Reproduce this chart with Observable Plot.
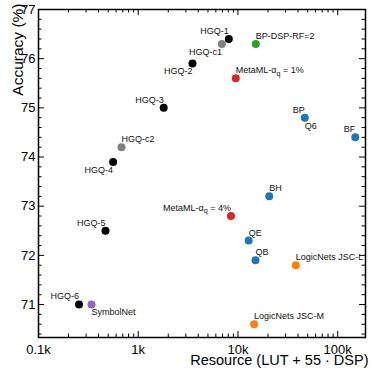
<!DOCTYPE html>
<html>
<head>
<meta charset="utf-8">
<script src="https://cdn.jsdelivr.net/npm/d3@7"></script>
<script src="https://cdn.jsdelivr.net/npm/@observablehq/plot@0.6"></script>
<style>
  html, body { margin: 0; padding: 0; background: #fff; }
  #chart svg, #chart svg text { font-family: "Liberation Sans", Arial, Helvetica, sans-serif; }
</style>
</head>
<body>
<div id="chart"></div>
<script>
// ---- data ----
const names = ["HGQ-1", "HGQ-c1", "HGQ-2", "HGQ-3", "HGQ-c2", "HGQ-4", "HGQ-5", "HGQ-6",
  "SymbolNet", "BP-DSP-RF=2", "MetaML-αq = 1%", "MetaML-αq = 4%",
  "BP", "Q6", "BF", "BH", "QE", "QB", "LogicNets JSC-L", "LogicNets JSC-M"];
const resources = [8100, 6900, 3500, 1800, 680, 560, 470, 255,
  340, 15100, 9500, 8500,
  46800, 46800, 150000, 20600, 12800, 15000, 38000, 14500];
const accuracies = [76.4, 76.3, 75.9, 75.0, 74.2, 73.9, 72.5, 71.0,
  71.0, 76.3, 75.6, 72.8,
  74.8, 74.8, 74.4, 73.2, 72.3, 71.9, 71.8, 70.6];
const groups = ["HGQ", "HGQ-c", "HGQ", "HGQ", "HGQ-c", "HGQ", "HGQ", "HGQ",
  "SymbolNet", "BP-DSP", "MetaML", "MetaML",
  "hls4ml", "hls4ml", "hls4ml", "hls4ml", "hls4ml", "hls4ml", "LogicNets", "LogicNets"];

const groupNames = ["HGQ", "HGQ-c", "SymbolNet", "BP-DSP", "MetaML", "hls4ml", "LogicNets"];
const groupColors = ["#000000", "#808080", "#9467bd", "#2ca02c", "#d62728", "#1f77b4", "#ff7f0e"];

const xMajorTicks = [100, 1000, 10000, 100000];
const xTickLabels = ["0.1k", "1k", "10k", "100k"];
const xMinorTicks = [200, 300, 400, 500, 600, 700, 800, 900,
  2000, 3000, 4000, 5000, 6000, 7000, 8000, 9000,
  20000, 30000, 40000, 50000, 60000, 70000, 80000, 90000];
const yMajorTicks = [71, 72, 73, 74, 75, 76, 77];
const yTickLabels = ["71", "72", "73", "74", "75", "76", "77"];
const yMinorTicks = [70.4, 70.6, 70.8, 71.2, 71.4, 71.6, 71.8, 72.2, 72.4, 72.6, 72.8,
  73.2, 73.4, 73.6, 73.8, 74.2, 74.4, 74.6, 74.8, 75.2, 75.4, 75.6, 75.8,
  76.2, 76.4, 76.6, 76.8];

const xLabel = "Resource (LUT + 55 · DSP)";
const yLabel = "Accuracy (%)";

// ---- label placement (layout, not data) ----
const placement = {
  "HGQ-1": "above-end", "HGQ-c1": "below-end", "HGQ-2": "below-end", "HGQ-3": "above-end",
  "HGQ-c2": "above-start", "HGQ-4": "below-end", "HGQ-5": "above-end", "HGQ-6": "above-end",
  "SymbolNet": "below-start", "BP-DSP-RF=2": "above-start", "MetaML-αq = 1%": "above-start",
  "MetaML-αq = 4%": "above-end", "BP": "above-end", "Q6": "below-start", "BF": "above-end",
  "BH": "above-start", "QE": "above-start", "QB": "above-start",
  "LogicNets JSC-L": "above-start", "LogicNets JSC-M": "above-start"
};

const rows = names.map((n, i) => ({name: n, res: resources[i], acc: accuracies[i], group: groups[i]}));
const dotRows = rows.filter(d => d.name !== "Q6"); // Q6 shares the BP point

const W = 374, H = 376;
const mL = 38, mR = 9, mT = 9, mB = 39;
const plotW = W - mL - mR, plotH = H - mT - mB;
const majorLen = 6, minorLen = 3.5;
const tickColor = "black";
const FONT = "Liberation Sans, Arial, Helvetica, sans-serif";

const labelMark = (pos, anchor, dy) => Plot.text(rows.filter(d => placement[d.name] === pos), {
  x: "res", y: "acc", text: "name", textAnchor: anchor, dy, fontSize: 9, fill: "#111", fontFamily: FONT
});
const dotMarks = groupNames.map((g, i) => Plot.dot(dotRows.filter(d => d.group === g), {
  x: "res", y: "acc", r: 4, fill: groupColors[i], stroke: "none"
}));

const chart = Plot.plot({
  width: W, height: H,
  marginLeft: mL, marginRight: mR, marginTop: mT, marginBottom: mB,
  x: {type: "log", domain: [100, 190000], axis: null},
  y: {domain: [70.33, 77], axis: null},
  marks: [
    // inward ticks: bottom / top
    Plot.ruleX(xMajorTicks, {insetTop: plotH - majorLen, stroke: tickColor, strokeWidth: 1}),
    Plot.ruleX(xMinorTicks, {insetTop: plotH - minorLen, stroke: tickColor, strokeWidth: 1}),
    Plot.ruleX(xMajorTicks, {insetBottom: plotH - majorLen, stroke: tickColor, strokeWidth: 1}),
    Plot.ruleX(xMinorTicks, {insetBottom: plotH - minorLen, stroke: tickColor, strokeWidth: 1}),
    // inward ticks: left / right
    Plot.ruleY(yMajorTicks, {insetRight: plotW - majorLen, stroke: tickColor, strokeWidth: 1}),
    Plot.ruleY(yMinorTicks, {insetRight: plotW - minorLen, stroke: tickColor, strokeWidth: 1}),
    Plot.ruleY(yMajorTicks, {insetLeft: plotW - majorLen, stroke: tickColor, strokeWidth: 1}),
    Plot.ruleY(yMinorTicks, {insetLeft: plotW - minorLen, stroke: tickColor, strokeWidth: 1}),
    Plot.frame({stroke: "black", strokeWidth: 1.5}),
    // tick labels
    Plot.text(xMajorTicks, {x: d => d, frameAnchor: "bottom", lineAnchor: "top", dy: 7,
      text: (d, i) => xTickLabels[i], fontSize: 13, fill: "black", fontFamily: FONT}),
    Plot.text(yMajorTicks, {y: d => d, frameAnchor: "left", textAnchor: "end", dx: -3,
      text: (d, i) => yTickLabels[i], fontSize: 13, fill: "black", fontFamily: FONT}),
    // points
    ...dotMarks,
    // labels
    labelMark("above-start", "start", -8),
    labelMark("above-end", "end", -8),
    labelMark("below-start", "start", 8),
    labelMark("below-end", "end", 8),
    // axis titles
    Plot.text([xLabel], {frameAnchor: "bottom-right", text: d => d, textAnchor: "end", dx: 3, dy: 27, fontSize: 14.5, fill: "black", fontFamily: FONT}),
    Plot.text([yLabel], {frameAnchor: "top-left", text: d => d, textAnchor: "end", rotate: -90, dx: -27, dy: -6, fontSize: 15.5, fill: "black", fontFamily: FONT})
  ]
});

// subscript for α_q
chart.querySelectorAll("text").forEach(t => {
  const s = t.textContent;
  if (s.includes("αq")) {
    const [a, b] = s.split("αq");
    const ns = "http://www.w3.org/2000/svg";
    t.textContent = "";
    t.appendChild(document.createTextNode(a + "α"));
    const sub = document.createElementNS(ns, "tspan");
    sub.setAttribute("font-size", "7");
    sub.setAttribute("dy", "2.5");
    sub.textContent = "q";
    t.appendChild(sub);
    const rest = document.createElementNS(ns, "tspan");
    rest.setAttribute("dy", "-2.5");
    rest.textContent = b;
    t.appendChild(rest);
  }
});

document.getElementById("chart").appendChild(chart);
</script>
</body>
</html>
